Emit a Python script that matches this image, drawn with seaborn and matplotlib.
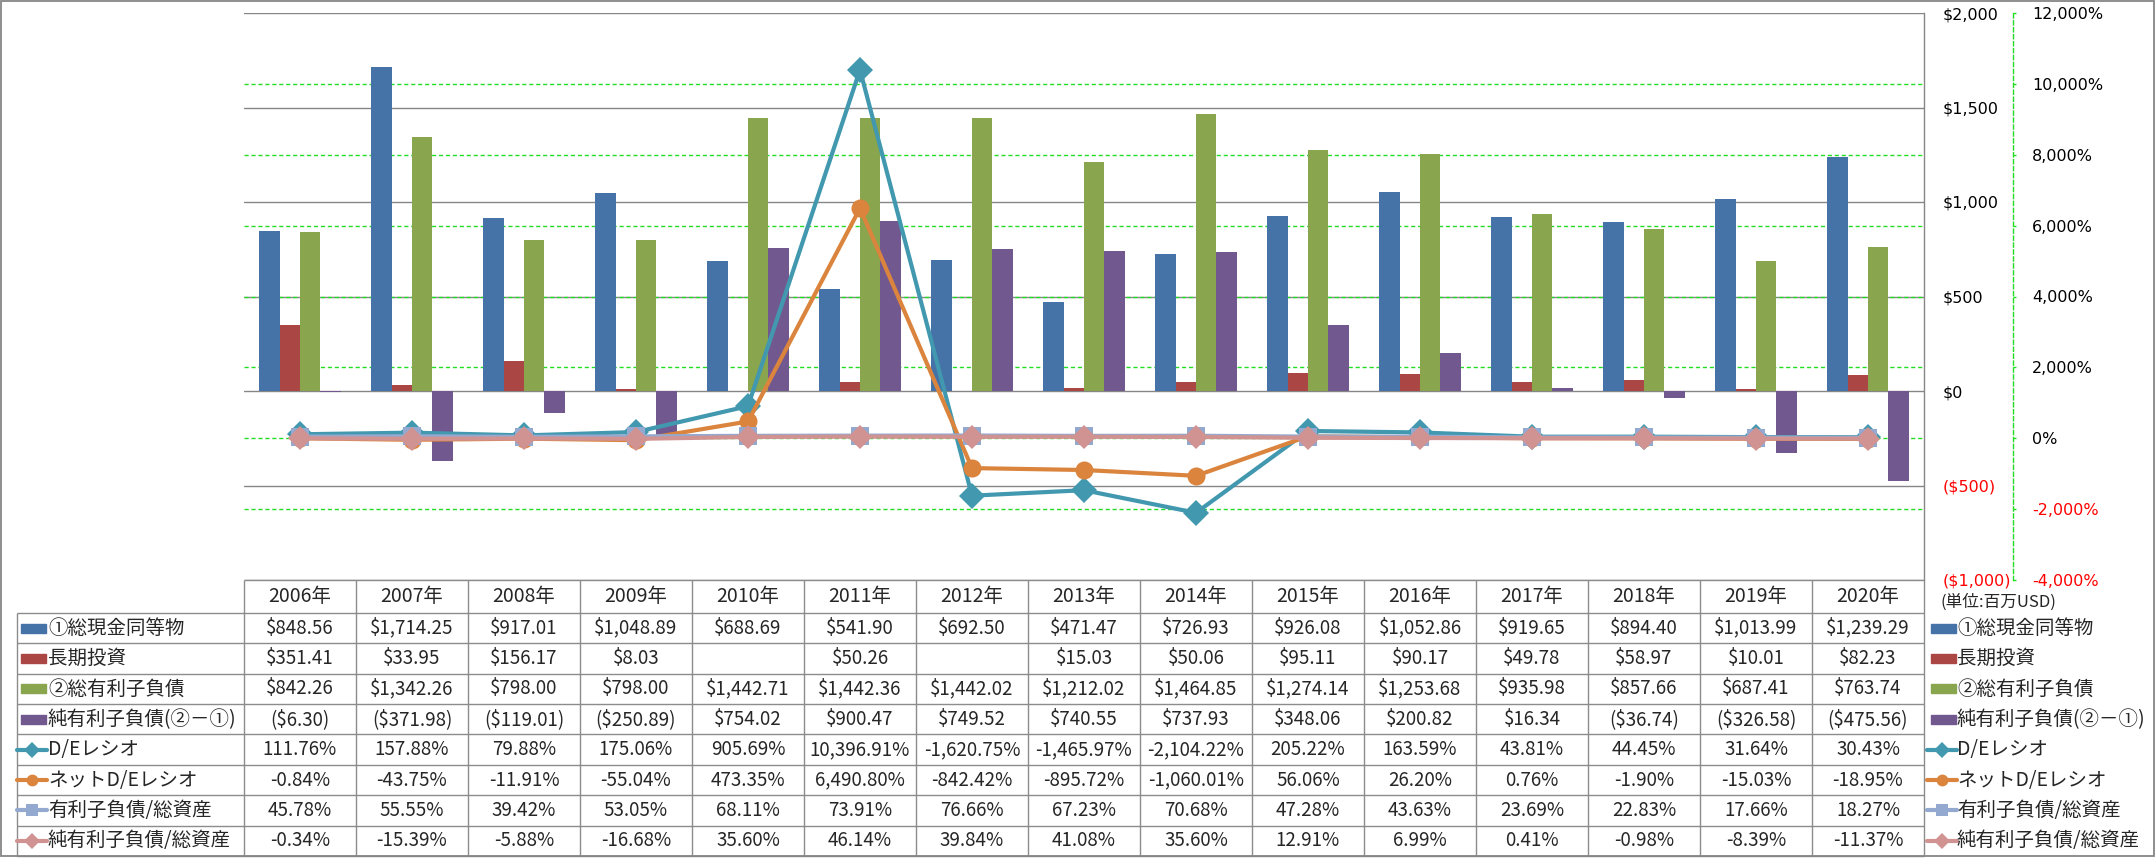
import numpy as np
import pandas as pd
import matplotlib
matplotlib.use('Agg')
import matplotlib.pyplot as plt
import matplotlib.transforms as mtransforms
from matplotlib.patches import Rectangle
from matplotlib.lines import Line2D
import seaborn as sns

# Data (USD millions / percent)
years = list(range(2006, 2021))
cash = [848.56, 1714.25, 917.01, 1048.89, 688.69, 541.90, 692.50, 471.47, 726.93, 926.08,
        1052.86, 919.65, 894.40, 1013.99, 1239.29]
lt_invest = [351.41, 33.95, 156.17, 8.03, np.nan, 50.26, np.nan, 15.03, 50.06, 95.11,
             90.17, 49.78, 58.97, 10.01, 82.23]
debt = [842.26, 1342.26, 798.00, 798.00, 1442.71, 1442.36, 1442.02, 1212.02, 1464.85, 1274.14,
        1253.68, 935.98, 857.66, 687.41, 763.74]
net_debt = [-6.30, -371.98, -119.01, -250.89, 754.02, 900.47, 749.52, 740.55, 737.93, 348.06,
            200.82, 16.34, -36.74, -326.58, -475.56]
de_ratio = [111.76, 157.88, 79.88, 175.06, 905.69, 10396.91, -1620.75, -1465.97, -2104.22, 205.22,
            163.59, 43.81, 44.45, 31.64, 30.43]
net_de_ratio = [-0.84, -43.75, -11.91, -55.04, 473.35, 6490.80, -842.42, -895.72, -1060.01, 56.06,
                26.20, 0.76, -1.90, -15.03, -18.95]
debt_to_assets = [45.78, 55.55, 39.42, 53.05, 68.11, 73.91, 76.66, 67.23, 70.68, 47.28,
                  43.63, 23.69, 22.83, 17.66, 18.27]
net_debt_to_assets = [-0.34, -15.39, -5.88, -16.68, 35.60, 46.14, 39.84, 41.08, 35.60, 12.91,
                      6.99, 0.41, -0.98, -8.39, -11.37]

bar_names = ['①総現金同等物', '長期投資', '②総有利子負債', '純有利子負債(②－①)']
line_names = ['D/Eレシオ', 'ネットD/Eレシオ', '有利子負債/総資産', '純有利子負債/総資産']
bar_colors = ['#4572A7', '#AA4643', '#89A54E', '#71588F']
line_colors = ['#4198AF', '#DB843D', '#93A9CF', '#D19392']
line_markers = ['D', 'o', 's', 'D']
line_msizes = [13.5, 13, 12.5, 12.5]

usd_ticks = np.arange(-1000, 2001, 500)
pct_ticks = np.arange(-4000, 12001, 2000)


def fmt_usd(v):
    if np.isnan(v):
        return ''
    return '(${:,.2f})'.format(-v) if v < 0 else '${:,.2f}'.format(v)


def fmt_pct(v):
    return '{:,.2f}%'.format(v)


def fmt_usd_tick(v):
    return '(${:,.0f})'.format(-v) if v < 0 else '${:,.0f}'.format(v)


sns.set_theme(style='white')
plt.rcParams['font.family'] = ['Noto Sans CJK JP', 'DejaVu Sans']

GRAY = '#868686'
GREEN = '#22DD22'
W, H = 2156, 858
fig = plt.figure(figsize=(W / 100, H / 100), dpi=100)

year_labels = [f'{y}年' for y in years]
bar_series = [cash, lt_invest, debt, net_debt]
df = pd.DataFrame({
    'year': np.tile(year_labels, len(bar_series)),
    'series': np.repeat(bar_names, len(years)),
    'value': np.concatenate(bar_series),
}).dropna()

# main plot area
ax = fig.add_axes([244 / W, (H - 580) / H, 1680 / W, 567 / H])
sns.barplot(data=df, x='year', y='value', hue='series', order=year_labels,
            hue_order=bar_names, palette=bar_colors, width=0.727, gap=0,
            saturation=1, errorbar=None, linewidth=0, legend=False, ax=ax)

ax2 = ax.twinx()
xpos = np.arange(len(years))
line_series = [de_ratio, net_de_ratio, debt_to_assets, net_debt_to_assets]
for vals, name, c, m, ms in zip(line_series, line_names, line_colors, line_markers, line_msizes):
    ax2.plot(xpos, vals, color=c, marker=m, ms=ms, lw=3, mec=c, mew=0, label=name)

# green dashed gridlines of the % axis, kept behind the bars
trans = mtransforms.blended_transform_factory(ax.transAxes, ax2.transData)
for t in pct_ticks[1:-1]:
    ax.add_line(Line2D([0, 1], [t, t], transform=trans, color=GREEN, lw=1.0,
                       ls=(0, (3, 2)), zorder=0.6))

# spines first (moving a spine resets its ticks)
for s in ['top', 'left', 'bottom']:
    ax.spines[s].set_visible(False)
    ax2.spines[s].set_visible(False)
ax.spines['right'].set_color(GRAY)
ax.spines['right'].set_linewidth(1.0)
ax2.spines['right'].set_position(('outward', 64))
ax2.spines['right'].set_color(GREEN)
ax2.spines['right'].set_linewidth(1.0)
ax2.spines['right'].set_linestyle((0, (3, 2)))

ax.set_xlim(-0.5, len(years) - 0.5)
ax.set_ylim(-1000, 2000)
ax2.set_ylim(-4000, 12000)
ax.set_xlabel('')
ax.set_ylabel('')
ax.tick_params(axis='x', length=0, labelbottom=False)
ax.yaxis.tick_right()
ax.tick_params(axis='y', length=0, pad=13.7)
ax.set_yticks(usd_ticks)
ax.set_yticklabels([fmt_usd_tick(v) for v in usd_ticks], fontfamily='DejaVu Sans', fontsize=11.5)
ax.grid(axis='y', color=GRAY, lw=1.0)
ax.grid(axis='x', visible=False)
ax.set_axisbelow(True)

ax2.tick_params(axis='y', color=GREEN, length=2.5, width=1, direction='out', pad=11.5)
ax2.set_yticks(pct_ticks)
ax2.set_yticklabels(['{:,.0f}%'.format(v) for v in pct_ticks], fontfamily='DejaVu Sans', fontsize=11.5)
ax2.grid(False)

for a, ticks in ((ax, usd_ticks), (ax2, pct_ticks)):
    for lbl, v in zip(a.get_yticklabels(), ticks):
        lbl.set_color('#FF0000' if v < 0 else 'black')
        lbl.set_fontfamily('DejaVu Sans')
        lbl.set_fontsize(11.5)

# data table below the plot
tax = fig.add_axes([17 / W, 2 / H, (1924 - 17) / W, 276 / H])
x_left = -0.5 - (244 - 17) / 112
x_right = len(years) - 0.5
h0 = 33 / 30.4
n_rows = 8
tax.axis('off')
line_kw = dict(color='#8C8C8C', lw=1.0, clip_on=False)
tax.hlines(-h0, -0.5, x_right, **line_kw)
tax.hlines(np.arange(0, n_rows + 1), x_left, x_right, **line_kw)
tax.vlines(np.arange(-0.5, len(years)), -h0, n_rows, **line_kw)
tax.vlines(x_left, 0, n_rows, **line_kw)

for i, lab in enumerate(year_labels):
    tax.text(i, -h0 / 2, lab, ha='center', va='center', fontsize=14)

rows = [(n, v, fmt_usd, 'bar', c, None) for n, v, c in zip(bar_names, bar_series, bar_colors)]
rows += [(n, v, fmt_pct, 'line', c, m) for n, v, c, m in zip(line_names, line_series, line_colors, line_markers)]


def draw_key(x0, yc, kind, color, marker):
    if kind == 'bar':
        tax.add_patch(Rectangle((x0 + 4 / 112, yc - 0.15), 25 / 112, 0.3, color=color, clip_on=False))
    else:
        tax.plot([x0, x0 + 30 / 112], [yc, yc], color=color, lw=3, clip_on=False)
        tax.plot([x0 + 15 / 112], [yc], marker=marker, ms=8.5, color=color, mew=0, clip_on=False)


for r, (name, vals, fmt, kind, color, marker) in enumerate(rows):
    yc = r + 0.5
    for i, v in enumerate(vals):
        tax.text(i, yc, fmt(v), ha='center', va='center', fontsize=13.5)
    draw_key(x_left, yc, kind, color, marker)
    tax.text(x_left + 31 / 112, yc, name, ha='left', va='center', fontsize=14)
    draw_key(x_right + 3 / 112, yc, kind, color, marker)
    tax.text(x_right + 33 / 112, yc, name, ha='left', va='center', fontsize=14)

tax.set_xlim(x_left, x_right)
tax.set_ylim(n_rows, -h0)

fig.text(1940 / W, 1 - 602 / H, '(単位:百万USD)', fontsize=12, va='center', ha='left')

# chart border
fig.add_artist(Rectangle((1 / W, 2 / H), (W - 3) / W, (H - 3) / H, transform=fig.transFigure,
                         fill=False, ec=GRAY, lw=1.3))

fig.savefig('out.png', dpi=100)
